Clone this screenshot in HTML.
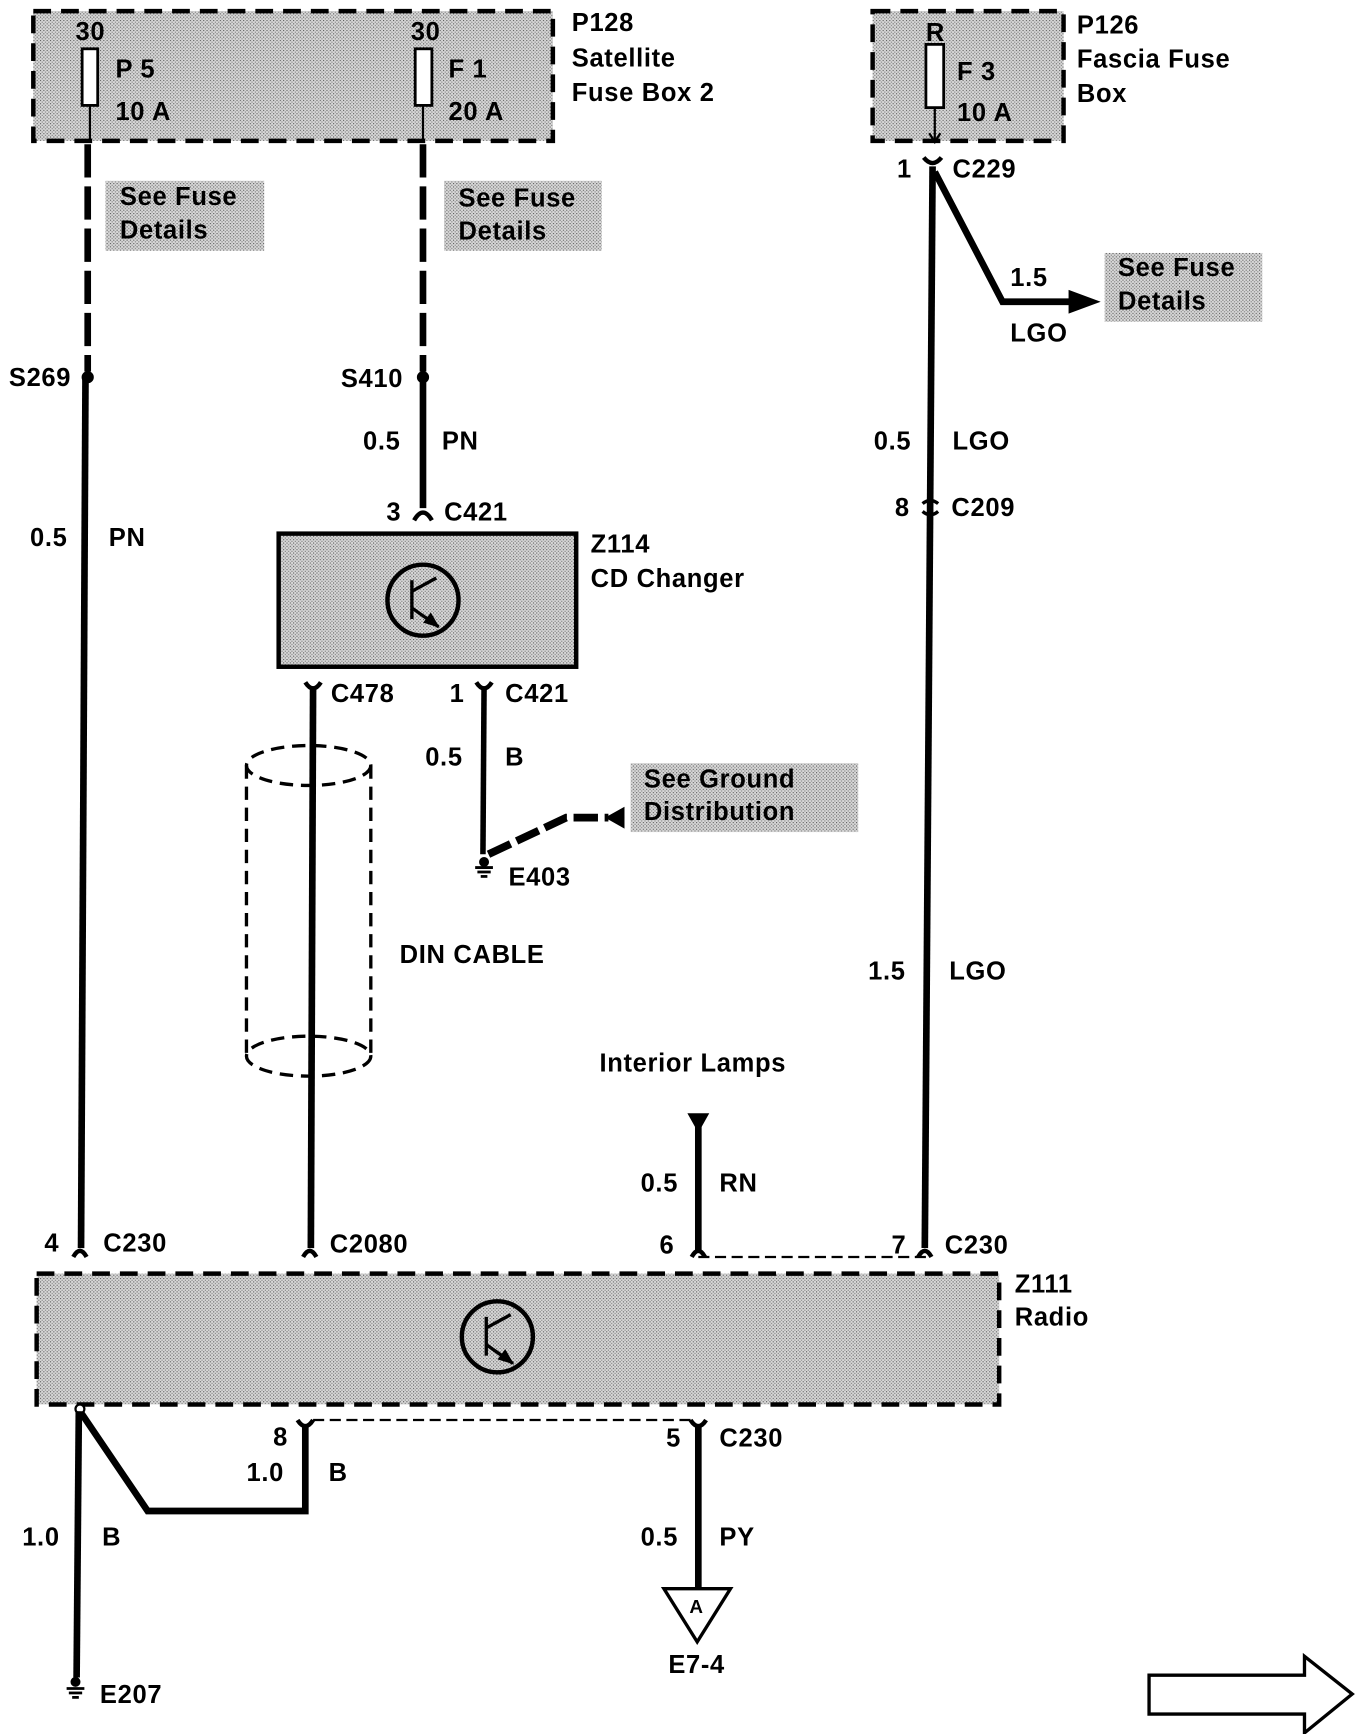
<!DOCTYPE html>
<html><head><meta charset="utf-8"><style>
html,body{margin:0;padding:0;background:#fff}
svg{display:block}
text{font-family:"Liberation Sans",sans-serif;font-weight:bold;font-size:23px;letter-spacing:0.6px;fill:#000}
</style></head><body>
<svg width="1360" height="1734" viewBox="0 0 1225 1563" preserveAspectRatio="none" xmlns="http://www.w3.org/2000/svg">
<defs>
<pattern id="dots" width="3" height="3" patternUnits="userSpaceOnUse">
<rect width="3" height="3" fill="#d8d8d8"/><rect width="1" height="1" fill="#555"/><rect x="1.5" y="1.5" width="1" height="1" fill="#777"/>
</pattern>
</defs>
<g stroke="#000" fill="none">
<rect x="30" y="10" width="468" height="117" fill="url(#dots)" stroke-width="4" stroke-dasharray="16,9"/>
<rect x="74" y="44" width="14" height="51" fill="#fff" stroke-width="2.5"/>
<rect x="374" y="44" width="15" height="51" fill="#fff" stroke-width="2.5"/>
<line x1="81" y1="95" x2="81" y2="128" stroke-width="2"/>
<line x1="381" y1="95" x2="381" y2="128" stroke-width="2"/>
<rect x="95" y="163" width="143" height="63" fill="url(#dots)" stroke="none"/>
<rect x="400" y="163" width="142" height="63" fill="url(#dots)" stroke="none"/>
<rect x="995" y="228" width="142" height="62" fill="url(#dots)" stroke="none"/>
<rect x="568" y="688" width="205" height="62" fill="url(#dots)" stroke="none"/>
<line x1="79" y1="130" x2="79" y2="335" stroke-width="6" stroke-dasharray="30,8"/>
<line x1="77" y1="340" x2="73" y2="1125" stroke-width="6"/>
<circle cx="79" cy="340" r="5" fill="#000"/>
<line x1="381" y1="130" x2="381" y2="335" stroke-width="6" stroke-dasharray="30,8"/>
<line x1="381" y1="340" x2="381" y2="458" stroke-width="6"/>
<circle cx="381" cy="340" r="5" fill="#000"/>
<path d="M373,469 Q381,455 389,469" stroke-width="4"/>
<rect x="251" y="481" width="268" height="120" fill="url(#dots)" stroke-width="4"/>
<circle cx="381" cy="541" r="32" stroke-width="4"/>
<line x1="371" y1="523" x2="371" y2="558" stroke-width="3"/>
<line x1="371" y1="533" x2="393" y2="521" stroke-width="3"/>
<line x1="371" y1="548" x2="395" y2="565" stroke-width="3"/>
<path d="M395,565 L382,561 L388,553 Z" fill="#000" stroke-width="1"/>
<path d="M275,615 Q282,626 289,615" stroke-width="4"/>
<line x1="282" y1="620" x2="280" y2="1125" stroke-width="6"/>
<ellipse cx="278" cy="690" rx="56" ry="18" stroke-width="3" stroke-dasharray="12,7"/>
<ellipse cx="278" cy="952" rx="56" ry="18" stroke-width="3" stroke-dasharray="12,7"/>
<line x1="222" y1="690" x2="222" y2="952" stroke-width="3" stroke-dasharray="12,7"/>
<line x1="334" y1="690" x2="334" y2="952" stroke-width="3" stroke-dasharray="12,7"/>
<path d="M429,615 Q436,626 443,615" stroke-width="4"/>
<line x1="436" y1="620" x2="435" y2="770" stroke-width="5"/>
<line x1="428" y1="782" x2="444" y2="782" stroke-width="2.5"/>
<line x1="430" y1="786" x2="442" y2="786" stroke-width="2.5"/>
<line x1="433" y1="790" x2="439" y2="790" stroke-width="2.5"/>
<circle cx="436" cy="777" r="4" fill="#000"/>
<path d="M440,770 L510,737 L548,737" stroke-width="7" stroke-dasharray="22,6"/>
<path d="M546,737 L562,728 L562,746 Z" fill="#000"/>
<rect x="786" y="10" width="172" height="117" fill="url(#dots)" stroke-width="4" stroke-dasharray="16,9"/>
<rect x="834" y="40" width="16" height="57" fill="#fff" stroke-width="2.5"/>
<line x1="842" y1="97" x2="842" y2="128" stroke-width="2"/>
<path d="M837,120 L842,128 L847,120" stroke-width="2"/>
<path d="M832,142 Q840,152 848,142" stroke-width="4"/>
<line x1="840" y1="150" x2="833" y2="1125" stroke-width="6"/>
<path d="M842,155 L903,272 L965,272" stroke-width="6"/>
<path d="M963,262 L990,272 L963,282 Z" fill="#000"/>
<path d="M831,454 Q838,448 845,454" stroke-width="3"/>
<path d="M831,461 Q838,467 845,461" stroke-width="3"/>
<path d="M620,1004 L638,1004 L629,1020 Z" fill="#000"/>
<line x1="629" y1="1010" x2="629" y2="1128" stroke-width="6"/>
<line x1="629" y1="1133" x2="835" y2="1133" stroke-width="2" stroke-dasharray="10,5"/>
<path d="M66,1133 Q72,1122 78,1133" stroke-width="4"/>
<path d="M273,1133 Q279,1122 285,1133" stroke-width="4"/>
<path d="M623,1133 Q629,1122 635,1133" stroke-width="4"/>
<path d="M827,1133 Q833,1122 839,1133" stroke-width="4"/>
<rect x="33" y="1148" width="867" height="118" fill="url(#dots)" stroke-width="4" stroke-dasharray="16,9"/>
<circle cx="448" cy="1205" r="32" stroke-width="4"/>
<line x1="438" y1="1187" x2="438" y2="1222" stroke-width="3"/>
<line x1="438" y1="1197" x2="460" y2="1185" stroke-width="3"/>
<line x1="438" y1="1212" x2="462" y2="1229" stroke-width="3"/>
<path d="M462,1229 L449,1225 L455,1217 Z" fill="#000" stroke-width="1"/>
<path d="M72,1272 L133,1362 L275,1362 L275,1285" stroke-width="6"/>
<circle cx="72" cy="1270" r="4" fill="#fff" stroke-width="2"/>
<path d="M268,1280 Q275,1291 282,1280" stroke-width="4"/>
<line x1="282" y1="1280" x2="622" y2="1280" stroke-width="2" stroke-dasharray="10,5"/>
<path d="M622,1280 Q629,1291 636,1280" stroke-width="4"/>
<line x1="629" y1="1285" x2="629" y2="1432" stroke-width="6"/>
<path d="M598,1432 L658,1432 L628,1480 Z" fill="#fff" stroke-width="3"/>
<line x1="71" y1="1272" x2="69" y2="1512" stroke-width="6"/>
<line x1="60" y1="1522" x2="76" y2="1522" stroke-width="2.5"/>
<line x1="62" y1="1526" x2="74" y2="1526" stroke-width="2.5"/>
<line x1="65" y1="1530" x2="71" y2="1530" stroke-width="2.5"/>
<circle cx="68" cy="1516" r="4" fill="#000"/>
<path d="M1035,1510 L1175,1510 L1175,1493 L1218,1527 L1175,1562 L1175,1545 L1035,1545 Z" fill="#fff" stroke-width="3"/>
</g>
<text x="68" y="36">30</text>
<text x="104" y="70">P 5</text>
<text x="104" y="108">10 A</text>
<text x="370" y="36">30</text>
<text x="404" y="70">F 1</text>
<text x="404" y="108">20 A</text>
<text x="515" y="28">P128</text>
<text x="515" y="60">Satellite</text>
<text x="515" y="91">Fuse Box 2</text>
<text x="108" y="185">See Fuse</text>
<text x="108" y="215">Details</text>
<text x="413" y="186">See Fuse</text>
<text x="413" y="216">Details</text>
<text x="8" y="348">S269</text>
<text x="307" y="349">S410</text>
<text x="327" y="405">0.5</text>
<text x="398" y="405">PN</text>
<text x="27" y="492">0.5</text>
<text x="98" y="492">PN</text>
<text x="348" y="469">3</text>
<text x="400" y="469">C421</text>
<text x="532" y="498">Z114</text>
<text x="532" y="529">CD Changer</text>
<text x="298" y="633">C478</text>
<text x="405" y="633">1</text>
<text x="455" y="633">C421</text>
<text x="383" y="690">0.5</text>
<text x="455" y="690">B</text>
<text x="580" y="710">See Ground</text>
<text x="580" y="739">Distribution</text>
<text x="458" y="798">E403</text>
<text x="360" y="868">DIN CABLE</text>
<text x="834" y="37">R</text>
<text x="862" y="72">F 3</text>
<text x="862" y="109">10 A</text>
<text x="970" y="30">P126</text>
<text x="970" y="61">Fascia Fuse</text>
<text x="970" y="92">Box</text>
<text x="808" y="160">1</text>
<text x="858" y="160">C229</text>
<text x="910" y="258">1.5</text>
<text x="910" y="308">LGO</text>
<text x="1007" y="249">See Fuse</text>
<text x="1007" y="279">Details</text>
<text x="787" y="405">0.5</text>
<text x="858" y="405">LGO</text>
<text x="806" y="465">8</text>
<text x="857" y="465">C209</text>
<text x="782" y="883">1.5</text>
<text x="855" y="883">LGO</text>
<text x="540" y="966">Interior Lamps</text>
<text x="577" y="1074">0.5</text>
<text x="648" y="1074">RN</text>
<text x="40" y="1128">4</text>
<text x="93" y="1128">C230</text>
<text x="297" y="1129">C2080</text>
<text x="594" y="1130">6</text>
<text x="803" y="1130">7</text>
<text x="851" y="1130">C230</text>
<text x="914" y="1165">Z111</text>
<text x="914" y="1195">Radio</text>
<text x="246" y="1303">8</text>
<text x="222" y="1335">1.0</text>
<text x="296" y="1335">B</text>
<text x="600" y="1304">5</text>
<text x="648" y="1304">C230</text>
<text x="20" y="1393">1.0</text>
<text x="92" y="1393">B</text>
<text x="577" y="1393">0.5</text>
<text x="648" y="1393">PY</text>
<text x="621" y="1454" style="font-size:17px">A</text>
<text x="602" y="1508">E7-4</text>
<text x="90" y="1535">E207</text>
</svg>
</body></html>
